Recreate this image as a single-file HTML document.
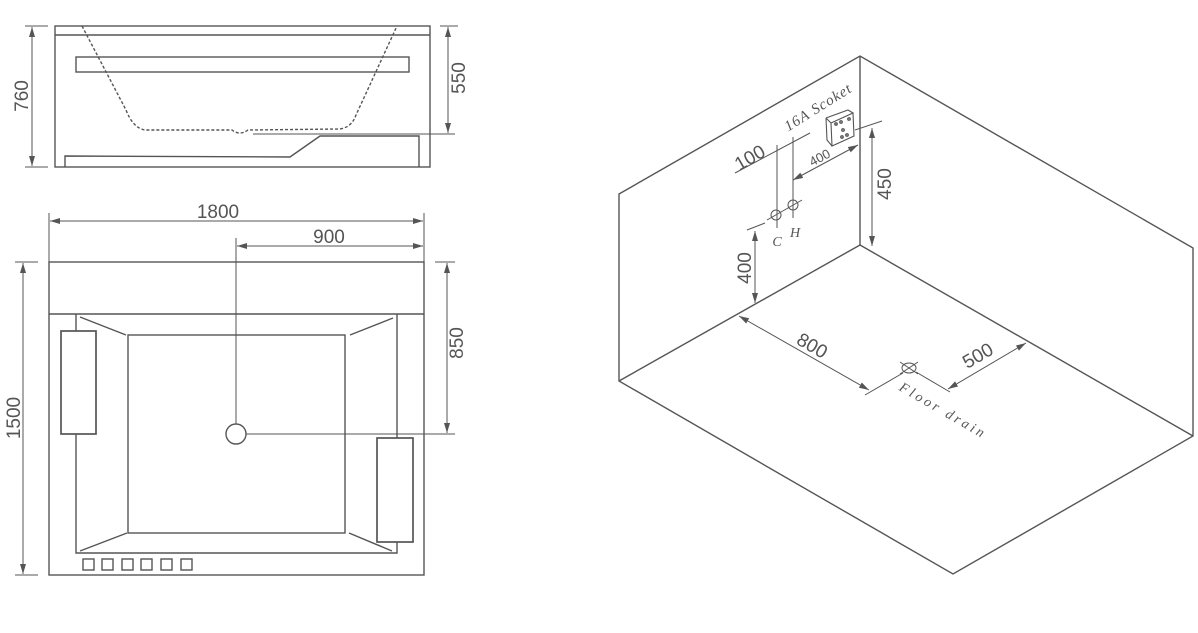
<!DOCTYPE html>
<html><head><meta charset="utf-8"><style>
html,body{margin:0;padding:0;background:#fff;}
svg{display:block;}
text{fill:#555;font-family:"Liberation Sans",sans-serif;}
.s{font-family:"Liberation Serif",serif;font-style:italic;}
</style></head><body>
<svg width="1198" height="633" viewBox="0 0 1198 633" xmlns="http://www.w3.org/2000/svg">
<defs>
<marker id="a" viewBox="0 0 10 6" refX="10" refY="3" markerWidth="10" markerHeight="6" orient="auto-start-reverse" markerUnits="userSpaceOnUse"><path d="M0,0 L10,3 L0,6z" fill="#555"/></marker>
</defs>
<g stroke="#555" stroke-width="1.4" fill="none">
<!-- side view -->
<rect x="55" y="26" width="375" height="141"/>
<line x1="55" y1="35" x2="430" y2="35"/>
<rect x="76" y="57" width="333" height="15"/>
<path d="M82,26 L126,110 Q133,128 145,130 L232,130 Q240,136 248,130 L340,129 Q352,127 356,115 L397,26" stroke-dasharray="3,2"/>
<path d="M65,167 L65,156 L290,157 L320,136 L419,136 L419,167"/>
<line x1="253" y1="134" x2="455" y2="134" stroke-width="1"/>
<line x1="25" y1="26" x2="48" y2="26" stroke-width="1"/>
<line x1="25" y1="167" x2="48" y2="167" stroke-width="1"/>
<line x1="440" y1="26" x2="458" y2="26" stroke-width="1"/>
<line x1="32" y1="27" x2="32" y2="166" stroke-width="1" marker-start="url(#a)" marker-end="url(#a)"/>
<line x1="448" y1="27" x2="448" y2="133" stroke-width="1" marker-start="url(#a)" marker-end="url(#a)"/>
<!-- plan view -->
<rect x="49" y="262" width="375" height="313"/>
<line x1="49" y1="314" x2="424" y2="314"/>
<path d="M76,314 L76,553 L397,553 L397,314"/>
<rect x="128" y="335" width="217" height="198"/>
<line x1="80" y1="317" x2="126" y2="335"/>
<line x1="393" y1="318" x2="350" y2="335"/>
<line x1="80" y1="551" x2="127" y2="533"/>
<line x1="392" y1="551" x2="349" y2="533"/>
<rect x="61" y="331" width="35" height="103" fill="#fff" stroke-width="1.7"/>
<rect x="377" y="438" width="36" height="104" fill="#fff" stroke-width="1.7"/>
<rect x="83" y="559" width="11" height="11"/><rect x="102" y="559" width="11" height="11"/><rect x="122" y="559" width="11" height="11"/><rect x="141" y="559" width="11" height="11"/><rect x="161" y="559" width="11" height="11"/><rect x="181" y="559" width="11" height="11"/>
<circle cx="236" cy="434" r="10"/>
<line x1="236" y1="238" x2="236" y2="424" stroke-width="1"/>
<line x1="246" y1="434" x2="455" y2="434" stroke-width="1"/>
<line x1="49" y1="213" x2="49" y2="262" stroke-width="1"/>
<line x1="424" y1="213" x2="424" y2="262" stroke-width="1"/>
<line x1="50" y1="221" x2="423" y2="221" stroke-width="1" marker-start="url(#a)" marker-end="url(#a)"/>
<line x1="237" y1="246" x2="423" y2="246" stroke-width="1" marker-start="url(#a)" marker-end="url(#a)"/>
<line x1="15" y1="262" x2="38" y2="262" stroke-width="1"/>
<line x1="15" y1="575" x2="38" y2="575" stroke-width="1"/>
<line x1="23" y1="263" x2="23" y2="574" stroke-width="1" marker-start="url(#a)" marker-end="url(#a)"/>
<line x1="435" y1="262" x2="455" y2="262" stroke-width="1"/>
<line x1="447" y1="263" x2="447" y2="433" stroke-width="1" marker-start="url(#a)" marker-end="url(#a)"/>
<!-- iso -->
<path d="M619,194 L860,56 L1193,248 L1193,436 L953,574 L619,381 Z"/>
<line x1="860" y1="56" x2="860" y2="245"/>
<line x1="619" y1="381" x2="860" y2="245"/>
<line x1="860" y1="245" x2="1193" y2="436"/>
<!-- socket -->
<path d="M831,123 L853,113 L854,136 L832,146 Z M826,118 L848,110 L853,113 M826,118 L827,140 L832,146 M826,118 L831,123" stroke-width="1.1"/>
<circle cx="836" cy="124" r="1.2"/><circle cx="841" cy="122" r="1.2"/><circle cx="849" cy="119" r="1.2"/><circle cx="843" cy="130" r="1.2"/><circle cx="842" cy="137" r="1.2"/><circle cx="847" cy="135" r="1.2"/>
<!-- 450 -->
<line x1="855" y1="130" x2="882" y2="121" stroke-width="1"/>
<line x1="872" y1="128" x2="872" y2="246" stroke-width="1" marker-start="url(#a)" marker-end="url(#a)"/>
<!-- 100 & 400 -->
<line x1="735" y1="173" x2="810" y2="133" stroke-width="1"/>
<line x1="777" y1="145" x2="777" y2="228" stroke-width="1"/>
<line x1="793" y1="137" x2="793" y2="218" stroke-width="1"/>
<line x1="793" y1="180" x2="858" y2="145" stroke-width="1" marker-start="url(#a)" marker-end="url(#a)"/>
<circle cx="776" cy="215" r="5" stroke-width="1"/>
<circle cx="793" cy="205" r="5" stroke-width="1"/>
<line x1="767" y1="220" x2="802" y2="200" stroke-width="1"/>
<line x1="747" y1="230" x2="765" y2="223" stroke-width="1"/>
<line x1="755" y1="231" x2="755" y2="303" stroke-width="1" marker-start="url(#a)" marker-end="url(#a)"/>
<!-- floor -->
<line x1="739" y1="316" x2="869" y2="390" stroke-width="1" marker-start="url(#a)" marker-end="url(#a)"/>
<line x1="948" y1="389" x2="1026" y2="343" stroke-width="1" marker-start="url(#a)" marker-end="url(#a)"/>
<line x1="865" y1="395" x2="903" y2="373" stroke-width="1"/>
<line x1="916" y1="372" x2="950" y2="392" stroke-width="1"/>
<ellipse cx="909" cy="368" rx="7" ry="5" stroke-width="1"/>
<line x1="900" y1="362" x2="918" y2="374" stroke-width="1"/>
<line x1="900" y1="374" x2="918" y2="362" stroke-width="1"/>
</g>
<g font-size="19">
<text x="22" y="96" text-anchor="middle" transform="rotate(-90 22 96)" dy="6">760</text>
<text x="459" y="78" text-anchor="middle" transform="rotate(-90 459 78)" dy="6">550</text>
<text x="218" y="218" text-anchor="middle">1800</text>
<text x="329" y="243" text-anchor="middle">900</text>
<text x="14" y="418" text-anchor="middle" transform="rotate(-90 14 418)" dy="6">1500</text>
<text x="457" y="343" text-anchor="middle" transform="rotate(-90 457 343)" dy="6">850</text>
<text x="885" y="184" text-anchor="middle" transform="rotate(-90 885 184)" dy="6">450</text>
<text x="745" y="268" text-anchor="middle" transform="rotate(-90 745 268)" dy="6">400</text>
<text x="750" y="158" text-anchor="middle" transform="rotate(-30 750 158)" dy="6">100</text>
<text x="812" y="346" text-anchor="middle" transform="rotate(30 812 346)" dy="6">800</text>
<text x="978" y="356" text-anchor="middle" transform="rotate(-30 978 356)" dy="6">500</text>
</g>
<text x="820" y="158" font-size="13" text-anchor="middle" transform="rotate(-28 820 158)" dy="4">400</text>
<text class="s" x="818" y="107" font-size="15" letter-spacing="1" text-anchor="middle" transform="rotate(-32 818 107)" dy="5">16A Scoket</text>
<text class="s" x="777" y="246" font-size="14" text-anchor="middle">C</text>
<text class="s" x="795" y="237" font-size="14" text-anchor="middle">H</text>
<text class="s" x="943" y="411" font-size="14" letter-spacing="3" text-anchor="middle" transform="rotate(30 943 411)" dy="4">Floor  drain</text>
</svg>
</body></html>
